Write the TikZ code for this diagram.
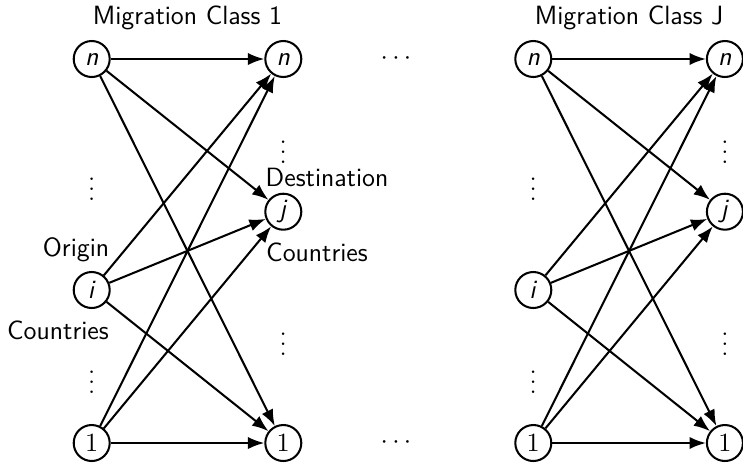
\documentclass[tikz,border=0pt]{standalone}
\usetikzlibrary{arrows.meta}

\begin{document}
\begin{tikzpicture}[x=0.4167pt,y=-0.4167pt,->,>=Latex,line width=0.85pt,
    every node/.style={font=\fontsize{11pt}{13pt}\selectfont},
    country/.style={circle,draw,inner sep=0pt,minimum size=15pt,font=\fontsize{11pt}{13pt}\selectfont\sffamily},
    caption/.style={font=\fontsize{11pt}{13pt}\selectfont\sffamily},
    dots/.style={inner sep=0pt}]
    \useasboundingbox (0,0) rectangle (743,462);

    \foreach \c/\dx in {1/0,J/441.6} {
        % origin countries
        \node[country] (o\c n) at (91.7+\dx,59) {\textit{n}};
        \node[country] (o\c i) at (91.7+\dx,290) {\textit{i}};
        \node[country] (o\c 1) at (91.7+\dx,443) {$1$};
        % destination countries
        \node[country] (d\c n) at (283.3+\dx,59) {\textit{n}};
        \node[country] (d\c j) at (283.3+\dx,211.7) {\textit{j}};
        \node[country] (d\c 1) at (283.3+\dx,443) {$1$};

        \node[dots] (vo\c a) at (91.7+\dx,182) {$\vdots$};
        \node[dots] (vo\c b) at (91.7+\dx,375) {$\vdots$};
        \node[dots] (vd\c a) at (283.3+\dx,145) {$\vdots$};
        \node[dots] (vd\c b) at (283.3+\dx,337) {$\vdots$};

        \node[caption] (title\c) at (187.5+\dx,18) {Migration Class \c};

        \foreach \a in {n,i,1}
            \foreach \b in {n,j,1}
                \draw (o\c\a) -- (d\c\b);
    }

    \node[caption] (origin) at (76,250) {Origin};
    \node[caption] (ocountries) at (58,330) {Countries};
    \node[caption] (destination) at (327,177) {Destination};
    \node[caption] (dcountries) at (317,252) {Countries};

    \node[dots] (hdotstop) at (396,59) {$\cdots$};
    \node[dots] (hdotsbottom) at (396,443) {$\cdots$};
\end{tikzpicture}
\end{document}
